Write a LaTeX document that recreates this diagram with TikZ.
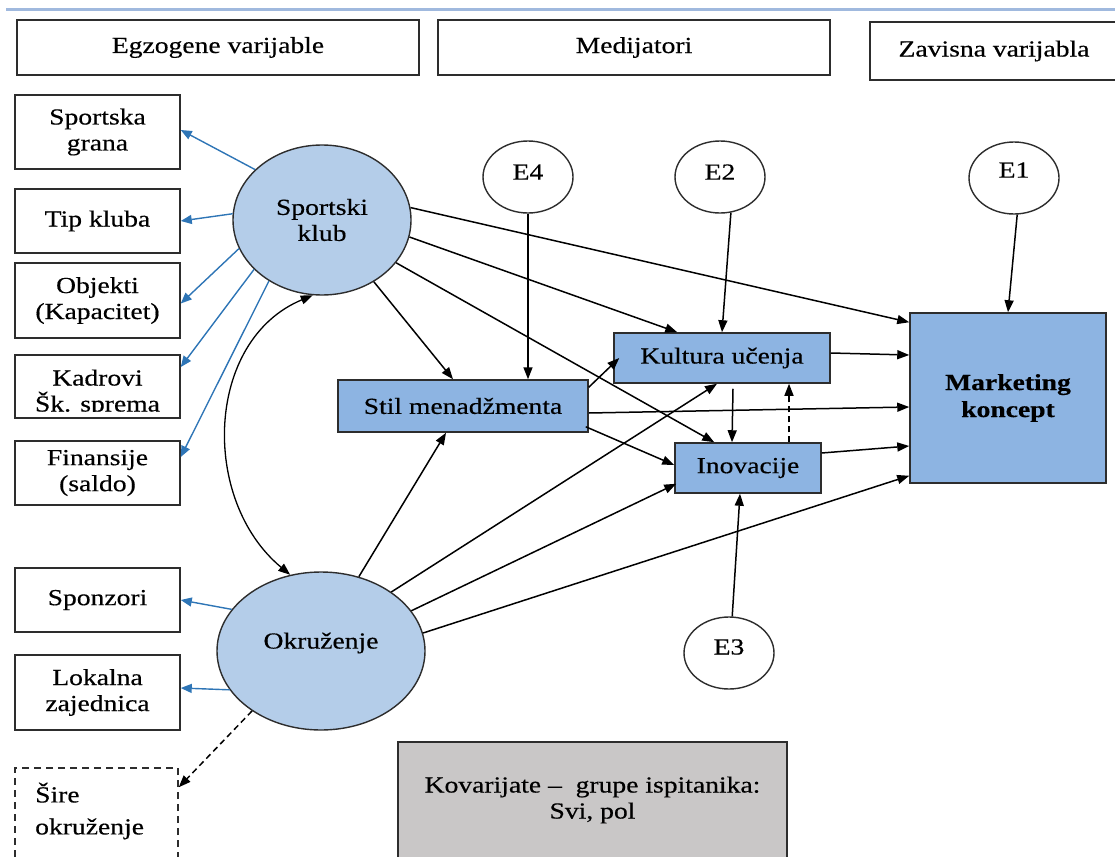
\documentclass[tikz,border=0pt]{standalone}
\usepackage{fontspec}
\setmainfont{Liberation Serif}[FakeStretch=1.2,FakeBold=0.4]
\usetikzlibrary{shapes.geometric,arrows.meta,calc}

\definecolor{ovalfill}{RGB}{180,205,233}
\definecolor{boxfill}{RGB}{141,180,226}
\definecolor{linkblue}{RGB}{46,117,182}
\definecolor{covgray}{RGB}{201,199,199}
\definecolor{rulecol}{RGB}{160,185,222}
\definecolor{edgegray}{RGB}{45,45,45}

\begin{document}
\begin{tikzpicture}[x=1pt,y=-1pt,
  txt/.style={font=\fontsize{23}{26}\selectfont, align=center, inner sep=0pt},
  frame/.style={draw=edgegray, line width=1.5pt, inner sep=0pt, txt},
  catbox/.style={frame, fill=white},
  varbox/.style={frame, fill=white, minimum width=165pt},
  medbox/.style={frame, fill=boxfill},
  latent/.style={ellipse, draw=edgegray, line width=1.4pt, fill=ovalfill, inner sep=0pt, txt},
  errnode/.style={ellipse, draw=edgegray, line width=1.4pt, fill=white,
    minimum width=90pt, minimum height=72pt, inner sep=0pt},
  tip/.style={-{Triangle[length=12pt,width=9pt]}},
  causal/.style={draw=black, line width=1.5pt, tip},
  indic/.style={draw=linkblue, line width=1.4pt, -{Triangle[length=11pt,width=9pt]}, color=linkblue},
]
\useasboundingbox (0,0) rectangle (1115,856);
\clip (0,0) rectangle (1115,856);

% top rule
\draw[rulecol, line width=3pt] (6,10) -- (1115,10);

% column headings
\node[catbox, minimum width=402pt, minimum height=55pt] (hegz) at (218,47.5) {Egzogene varijable};
\node[catbox, minimum width=392pt, minimum height=55pt] (hmed) at (634,47.5) {Medijatori};
\node[catbox, minimum width=248pt, minimum height=58pt] (hzav) at (994,51) {Zavisna varijabla};

% indicators of the club
\node[varbox, minimum height=74pt] (sg) at (97.5,132) {Sportska\\grana};
\node[varbox, minimum height=64pt] (tk) at (97.5,221) {Tip kluba};
\node[varbox, minimum height=75pt] (obj) at (97.5,300.5) {Objekti\\(Kapacitet)};
\node[varbox, minimum height=63pt] (kad) at (97.5,386.5) {};
\begin{scope}
  \clip (15,355) rectangle (180,411);
  \node[txt] (kadt) at (97.5,393) {Kadrovi\\Šk. sprema};
\end{scope}
\node[varbox, minimum height=64pt] (fin) at (97.5,473) {Finansije\\(saldo)};

% indicators of the environment
\node[varbox, minimum height=64pt] (spo) at (97.5,600) {Sponzori};
\node[varbox, minimum height=75pt] (lok) at (97.5,692.5) {Lokalna\\zajednica};
\node[frame, dashed, dash pattern=on 7pt off 5pt, minimum width=163pt, minimum height=132pt] (sire) at (96.5,834) {};
\node[txt, align=left, font=\fontsize{23}{32}\selectfont, anchor=west] (siret) at (35,811) {Šire\\okruženje};

% latent constructs
\node[latent, minimum width=178pt, minimum height=150pt] (sk) at (322,220) {Sportski\\klub};
\node[latent, minimum width=208pt, minimum height=158pt] (okr) at (321,651) {};
\node[txt] (okrt) at (321,643) {Okruženje};

% mediators and outcome
\node[medbox, minimum width=250pt, minimum height=52pt] (stil) at (463,406) {Stil menadžmenta};
\node[medbox, minimum width=216pt, minimum height=50pt] (kul) at (722,358) {Kultura učenja};
\node[medbox, minimum width=146pt, minimum height=50pt] (ino) at (748,468) {Inovacije};
\node[medbox, minimum width=196pt, minimum height=170pt, font=\bfseries\fontsize{23}{27}\selectfont] (mk) at (1008,398) {Marketing\\koncept};

% error terms
\node[errnode] (e4) at (528,177) {};
\node[txt] (e4t) at (528,172) {E4};
\node[errnode] (e2) at (720,177) {};
\node[txt] (e2t) at (720,172) {E2};
\node[errnode] (e1) at (1014,178) {};
\node[txt] (e1t) at (1014,170) {E1};
\node[errnode] (e3) at (729,653) {};
\node[txt] (e3t) at (729,647) {E3};

% covariates
\node[frame, fill=covgray, minimum width=389pt, minimum height=158pt] (kov) at (592.5,821) {};
\node[txt] (kovt) at (592.5,800) {Kovarijate \textendash\ \ grupe ispitanika:\\Svi, pol};

% measurement links
\draw[indic] (sk.143.9) -- ($(sg.east)+(0,-2)$);
\draw[indic] (sk.176) -- (tk.east);
\draw[indic] (sk.199) -- ($(obj.east)+(0,3)$);
\draw[indic] (sk.216.6) -- ($(kad.east)+(0,-19.5)$);
\draw[indic] (sk.229.4) -- ($(fin.east)+(0,-16)$);
\draw[indic] (okr.155) -- (spo.east);
\draw[indic] (okr.203.3) -- ($(lok.east)+(0,-4.5)$);
\draw[causal, dash pattern=on 6pt off 4pt] (okr.221) -- ($(sire.north east)+(0,20)$);

% covariance between the exogenous constructs
\draw[line width=1.3pt, {Triangle[length=12pt,width=9pt]}-{Triangle[length=12pt,width=9pt]}]
  (okr.112) .. controls (200,500) and (205,340) .. (sk.263);

% structural paths from the club
\draw[causal] (sk.310.7) -- ($(stil.north)+(-10,0)$);
\draw[causal] (sk.8.1) -- ($(mk.north west)+(0,10)$);
\draw[causal] (sk.349.4) -- ($(kul.north west)+(64,0)$);
\draw[causal] (sk.330.8) -- ($(ino.north west)+(40,0)$);

% structural paths from the environment
\draw[causal] (okr.63.4) -- ($(stil.south)+(-17,0)$);
\draw[causal] (okr.40.9) -- ($(kul.south)+(-5,0)$);
\draw[causal] (okr.24.3) -- ($(ino.south west)+(2,-10)$);
\draw[causal] (okr.10.1) -- ($(mk.south west)+(0,-8)$);

% paths among mediators
\draw[causal] ($(stil.north east)+(0,8)$) -- ($(kul.west)+(6,0)$);
\draw[causal] ($(stil.south east)+(-3,-6)$) -- ($(ino.west)+(0,-3)$);
\draw[causal] ($(stil.east)+(0,7)$) -- ($(mk.west)+(0,9)$);
\draw[causal] ($(kul.south)+(11,5)$) -- ($(ino.north)+(-16,0)$);
\draw[causal, dash pattern=on 6pt off 4pt] ($(ino.north)+(41,0)$) -- ($(kul.south)+(67,0)$);
\draw[causal] ($(kul.east)+(0,-5)$) -- ($(mk.west)+(0,-43)$);
\draw[causal] ($(ino.east)+(0,-15)$) -- ($(mk.west)+(0,48)$);

% error terms
\draw[causal] (e4.south) -- (e4.south |- stil.north);
\draw[causal] (e2.287) -- (kul.north);
\draw[causal] (e1.275) -- (mk.north);
\draw[causal] (e3.85) -- ($(ino.south)+(-8,0)$);
\end{tikzpicture}
\end{document}
